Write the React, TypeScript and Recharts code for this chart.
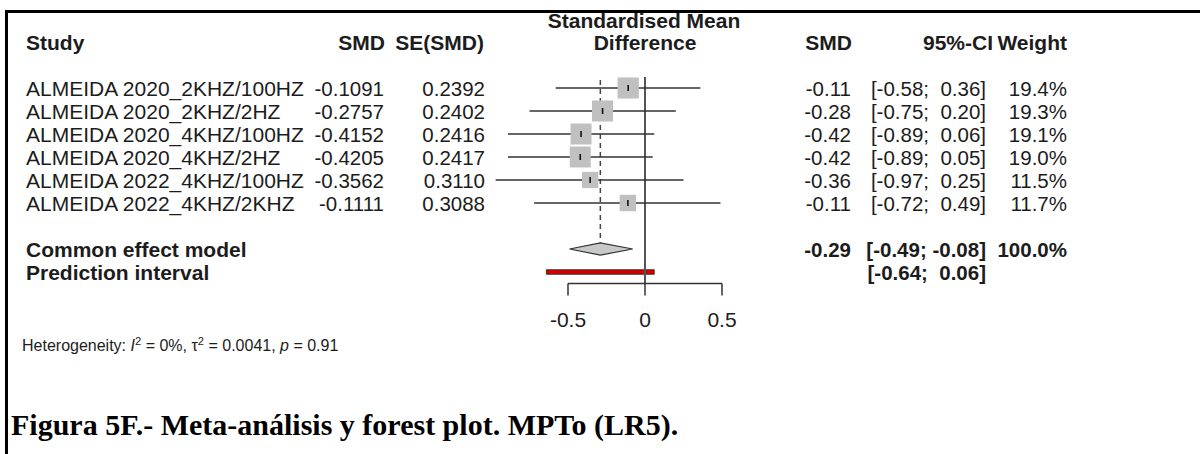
import React from 'react';
import {
  ScatterChart,
  Scatter,
  XAxis,
  YAxis,
  ErrorBar,
  ReferenceLine,
  ReferenceArea,
} from 'recharts';

const studies = [
  'ALMEIDA 2020_2KHZ/100HZ',
  'ALMEIDA 2020_2KHZ/2HZ',
  'ALMEIDA 2020_4KHZ/100HZ',
  'ALMEIDA 2020_4KHZ/2HZ',
  'ALMEIDA 2022_4KHZ/100HZ',
  'ALMEIDA 2022_4KHZ/2KHZ',
];
const smd = [-0.1091, -0.2757, -0.4152, -0.4205, -0.3562, -0.1111];
const seSmd = [0.2392, 0.2402, 0.2416, 0.2417, 0.311, 0.3088];
const ciLower = [-0.58, -0.75, -0.89, -0.89, -0.97, -0.72];
const ciUpper = [0.36, 0.2, 0.06, 0.05, 0.25, 0.49];
const weights = [19.4, 19.3, 19.1, 19.0, 11.5, 11.7];

const commonSmd = -0.29;
const commonCi = [-0.49, -0.08];
const commonWeight = 100;
const predictionCi = [-0.64, 0.06];
const axisTicks = [-0.5, 0, 0.5];

// layout
const W = 1200;
const H = 454;
const ROW0 = 88;
const ROW_H = 23;
const XAXIS_H = 50;
const rowY = (r: number) => ROW0 + ROW_H * r;
const COMMON_ROW = 7;
const PRED_ROW = 8;

const SANS = '"Liberation Sans", Arial, sans-serif';
const INK = '#1c1c1c';
const TXT_SIZE = 21;
const NUM_SIZE = 20.5;

const fmtCi = (lo: number, hi: number) => {
  const f = (v: number) => (v < 0 ? v.toFixed(2) : ' ' + v.toFixed(2));
  return `[${f(lo)}; ${f(hi)}]`;
};

type TxtProps = {
  x: number;
  y: number;
  align?: 'left' | 'right' | 'center';
  bold?: boolean;
  size?: number;
  children: React.ReactNode;
};

function Txt({ x, y, align = 'left', bold = false, size = NUM_SIZE, children }: TxtProps) {
  const lh = 23;
  const base: React.CSSProperties = {
    position: 'absolute',
    top: y - lh / 2,
    lineHeight: `${lh}px`,
    fontSize: size,
    fontFamily: SANS,
    fontWeight: bold ? 700 : 400,
    color: INK,
    whiteSpace: 'pre',
  };
  if (align === 'left') return <div style={{ ...base, left: x }}>{children}</div>;
  if (align === 'right')
    return <div style={{ ...base, left: x - 500, width: 500, textAlign: 'right' }}>{children}</div>;
  return <div style={{ ...base, left: x - 300, width: 600, textAlign: 'center' }}>{children}</div>;
}

const SquareShape = (props: any) => {
  const { cx, cy, payload } = props;
  const s = 4.8 * Math.sqrt(payload.weight);
  return (
    <g>
      <rect x={cx - s / 2} y={cy - s / 2} width={s} height={s} fill="#c0c0c0" />
      <line x1={cx} x2={cx} y1={cy - 3} y2={cy + 3} stroke="#111" strokeWidth={1.6} />
    </g>
  );
};

const DiamondShape = (props: any) => {
  const { x, y, width, height } = props;
  const mid = y + height / 2;
  const tip = x + ((commonSmd - commonCi[0]) / (commonCi[1] - commonCi[0])) * width;
  const pts = `${x},${mid} ${tip},${y} ${x + width},${mid} ${tip},${y + height}`;
  return <polygon points={pts} fill="#c8c8c8" stroke="#333" strokeWidth={1.2} />;
};

export default function App() {
  const data = studies.map((name, i) => ({
    name,
    x: smd[i],
    y: i,
    weight: weights[i],
    err: [smd[i] - ciLower[i], ciUpper[i] - smd[i]],
  }));

  const plotBottom = rowY(8.5);
  const sup: React.CSSProperties = { fontSize: '0.7em', lineHeight: 0 };

  return (
    <div
      style={{
        position: 'absolute',
        left: 0,
        top: 0,
        width: W,
        height: H,
        overflow: 'hidden',
        background: '#fff',
      }}
    >
      {/* column headers */}
      <Txt x={26} y={42} bold size={TXT_SIZE}>Study</Txt>
      <Txt x={385} y={42} align="right" bold size={TXT_SIZE}>SMD</Txt>
      <Txt x={484} y={42} align="right" bold size={TXT_SIZE}>SE(SMD)</Txt>
      <Txt x={644} y={20} align="center" bold size={TXT_SIZE}>Standardised Mean</Txt>
      <Txt x={645} y={42} align="center" bold size={TXT_SIZE}>Difference</Txt>
      <Txt x={852} y={42} align="right" bold size={TXT_SIZE}>SMD</Txt>
      <Txt x={993} y={42} align="right" bold size={TXT_SIZE}>95%-CI</Txt>
      <Txt x={1067} y={42} align="right" bold size={TXT_SIZE}>Weight</Txt>

      {/* study rows */}
      {studies.map((name, i) => (
        <React.Fragment key={name}>
          <Txt x={26} y={rowY(i)} size={TXT_SIZE}>{name}</Txt>
          <Txt x={384} y={rowY(i)} align="right">{smd[i].toFixed(4)}</Txt>
          <Txt x={485} y={rowY(i)} align="right">{seSmd[i].toFixed(4)}</Txt>
          <Txt x={851} y={rowY(i)} align="right">{smd[i].toFixed(2)}</Txt>
          <Txt x={986} y={rowY(i)} align="right">{fmtCi(ciLower[i], ciUpper[i])}</Txt>
          <Txt x={1067} y={rowY(i)} align="right">{weights[i].toFixed(1) + '%'}</Txt>
        </React.Fragment>
      ))}

      {/* pooled rows */}
      <Txt x={26} y={rowY(COMMON_ROW)} bold size={TXT_SIZE}>Common effect model</Txt>
      <Txt x={851} y={rowY(COMMON_ROW)} align="right" bold>{commonSmd.toFixed(2)}</Txt>
      <Txt x={986} y={rowY(COMMON_ROW)} align="right" bold>{fmtCi(commonCi[0], commonCi[1])}</Txt>
      <Txt x={1067} y={rowY(COMMON_ROW)} align="right" bold>{commonWeight.toFixed(1) + '%'}</Txt>
      <Txt x={26} y={rowY(PRED_ROW)} bold size={TXT_SIZE}>Prediction interval</Txt>
      <Txt x={986} y={rowY(PRED_ROW)} align="right" bold>{fmtCi(predictionCi[0], predictionCi[1])}</Txt>

      <Txt x={22} y={345} size={16}>
        Heterogeneity: <i>I</i>
        <sup style={sup}>2</sup> = 0%, τ<sup style={sup}>2</sup> = 0.0041, <i>p</i> = 0.91
      </Txt>

      <div
        style={{
          position: 'absolute',
          left: 11,
          top: 407.5,
          lineHeight: '34px',
          fontSize: 30,
          fontWeight: 700,
          fontFamily: '"Liberation Serif", "Times New Roman", serif',
          color: '#000',
          whiteSpace: 'pre',
        }}
      >
        Figura 5F.- Meta-análisis y forest plot. MPTo (LR5).
      </div>

      <div style={{ position: 'absolute', left: 0, top: 0 }}>
        <ScatterChart
          width={W}
          height={H}
          margin={{ top: rowY(-2), right: W - 799, bottom: H - plotBottom - XAXIS_H, left: 491 }}
        >
          <XAxis
            type="number"
            dataKey="x"
            domain={[-1, 1]}
            allowDataOverflow
            ticks={axisTicks}
            height={XAXIS_H}
            axisLine={false}
            tickSize={12}
            tickMargin={17}
            tickLine={{ stroke: '#333', strokeWidth: 1.5 }}
            tick={{ fontSize: 21, fill: INK, fontFamily: SANS }}
            tickFormatter={(v: number) => (v === 0 ? '0' : String(v))}
          />
          <YAxis type="number" dataKey="y" domain={[-2, 8.5]} allowDataOverflow reversed hide width={0} />

          <ReferenceLine
            segment={[{ x: 0, y: -0.48 }, { x: 0, y: 8.5 }]}
            stroke="#555"
            strokeWidth={2}
            ifOverflow="visible"
          />
          <ReferenceLine
            segment={[{ x: commonSmd, y: -0.35 }, { x: commonSmd, y: COMMON_ROW - 0.27 }]}
            stroke="#444"
            strokeWidth={1.5}
            strokeDasharray="5 4"
            ifOverflow="visible"
          />
          <ReferenceLine
            segment={[{ x: axisTicks[0], y: 8.5 }, { x: axisTicks[2], y: 8.5 }]}
            stroke="#333"
            strokeWidth={1.5}
            ifOverflow="visible"
          />

          <Scatter data={data} shape={SquareShape} isAnimationActive={false}>
            <ErrorBar dataKey="err" direction="x" width={0} stroke="#333" strokeWidth={1.5} isAnimationActive={false} />
          </Scatter>

          <ReferenceArea
            x1={commonCi[0]}
            x2={commonCi[1]}
            y1={COMMON_ROW - 0.27}
            y2={COMMON_ROW + 0.27}
            shape={DiamondShape}
            ifOverflow="visible"
          />
          <ReferenceArea
            x1={predictionCi[0]}
            x2={predictionCi[1]}
            y1={PRED_ROW - 0.1}
            y2={PRED_ROW + 0.1}
            fill="#d40000"
            fillOpacity={1}
            stroke="#222"
            strokeWidth={0.8}
            ifOverflow="visible"
          />
        </ScatterChart>
      </div>

      {/* frame */}
      <div style={{ position: 'absolute', left: 5, top: 9.5, width: W - 5, height: 3, background: '#000' }} />
      <div style={{ position: 'absolute', left: 5, top: 9.5, width: 3, height: H, background: '#000' }} />
    </div>
  );
}
